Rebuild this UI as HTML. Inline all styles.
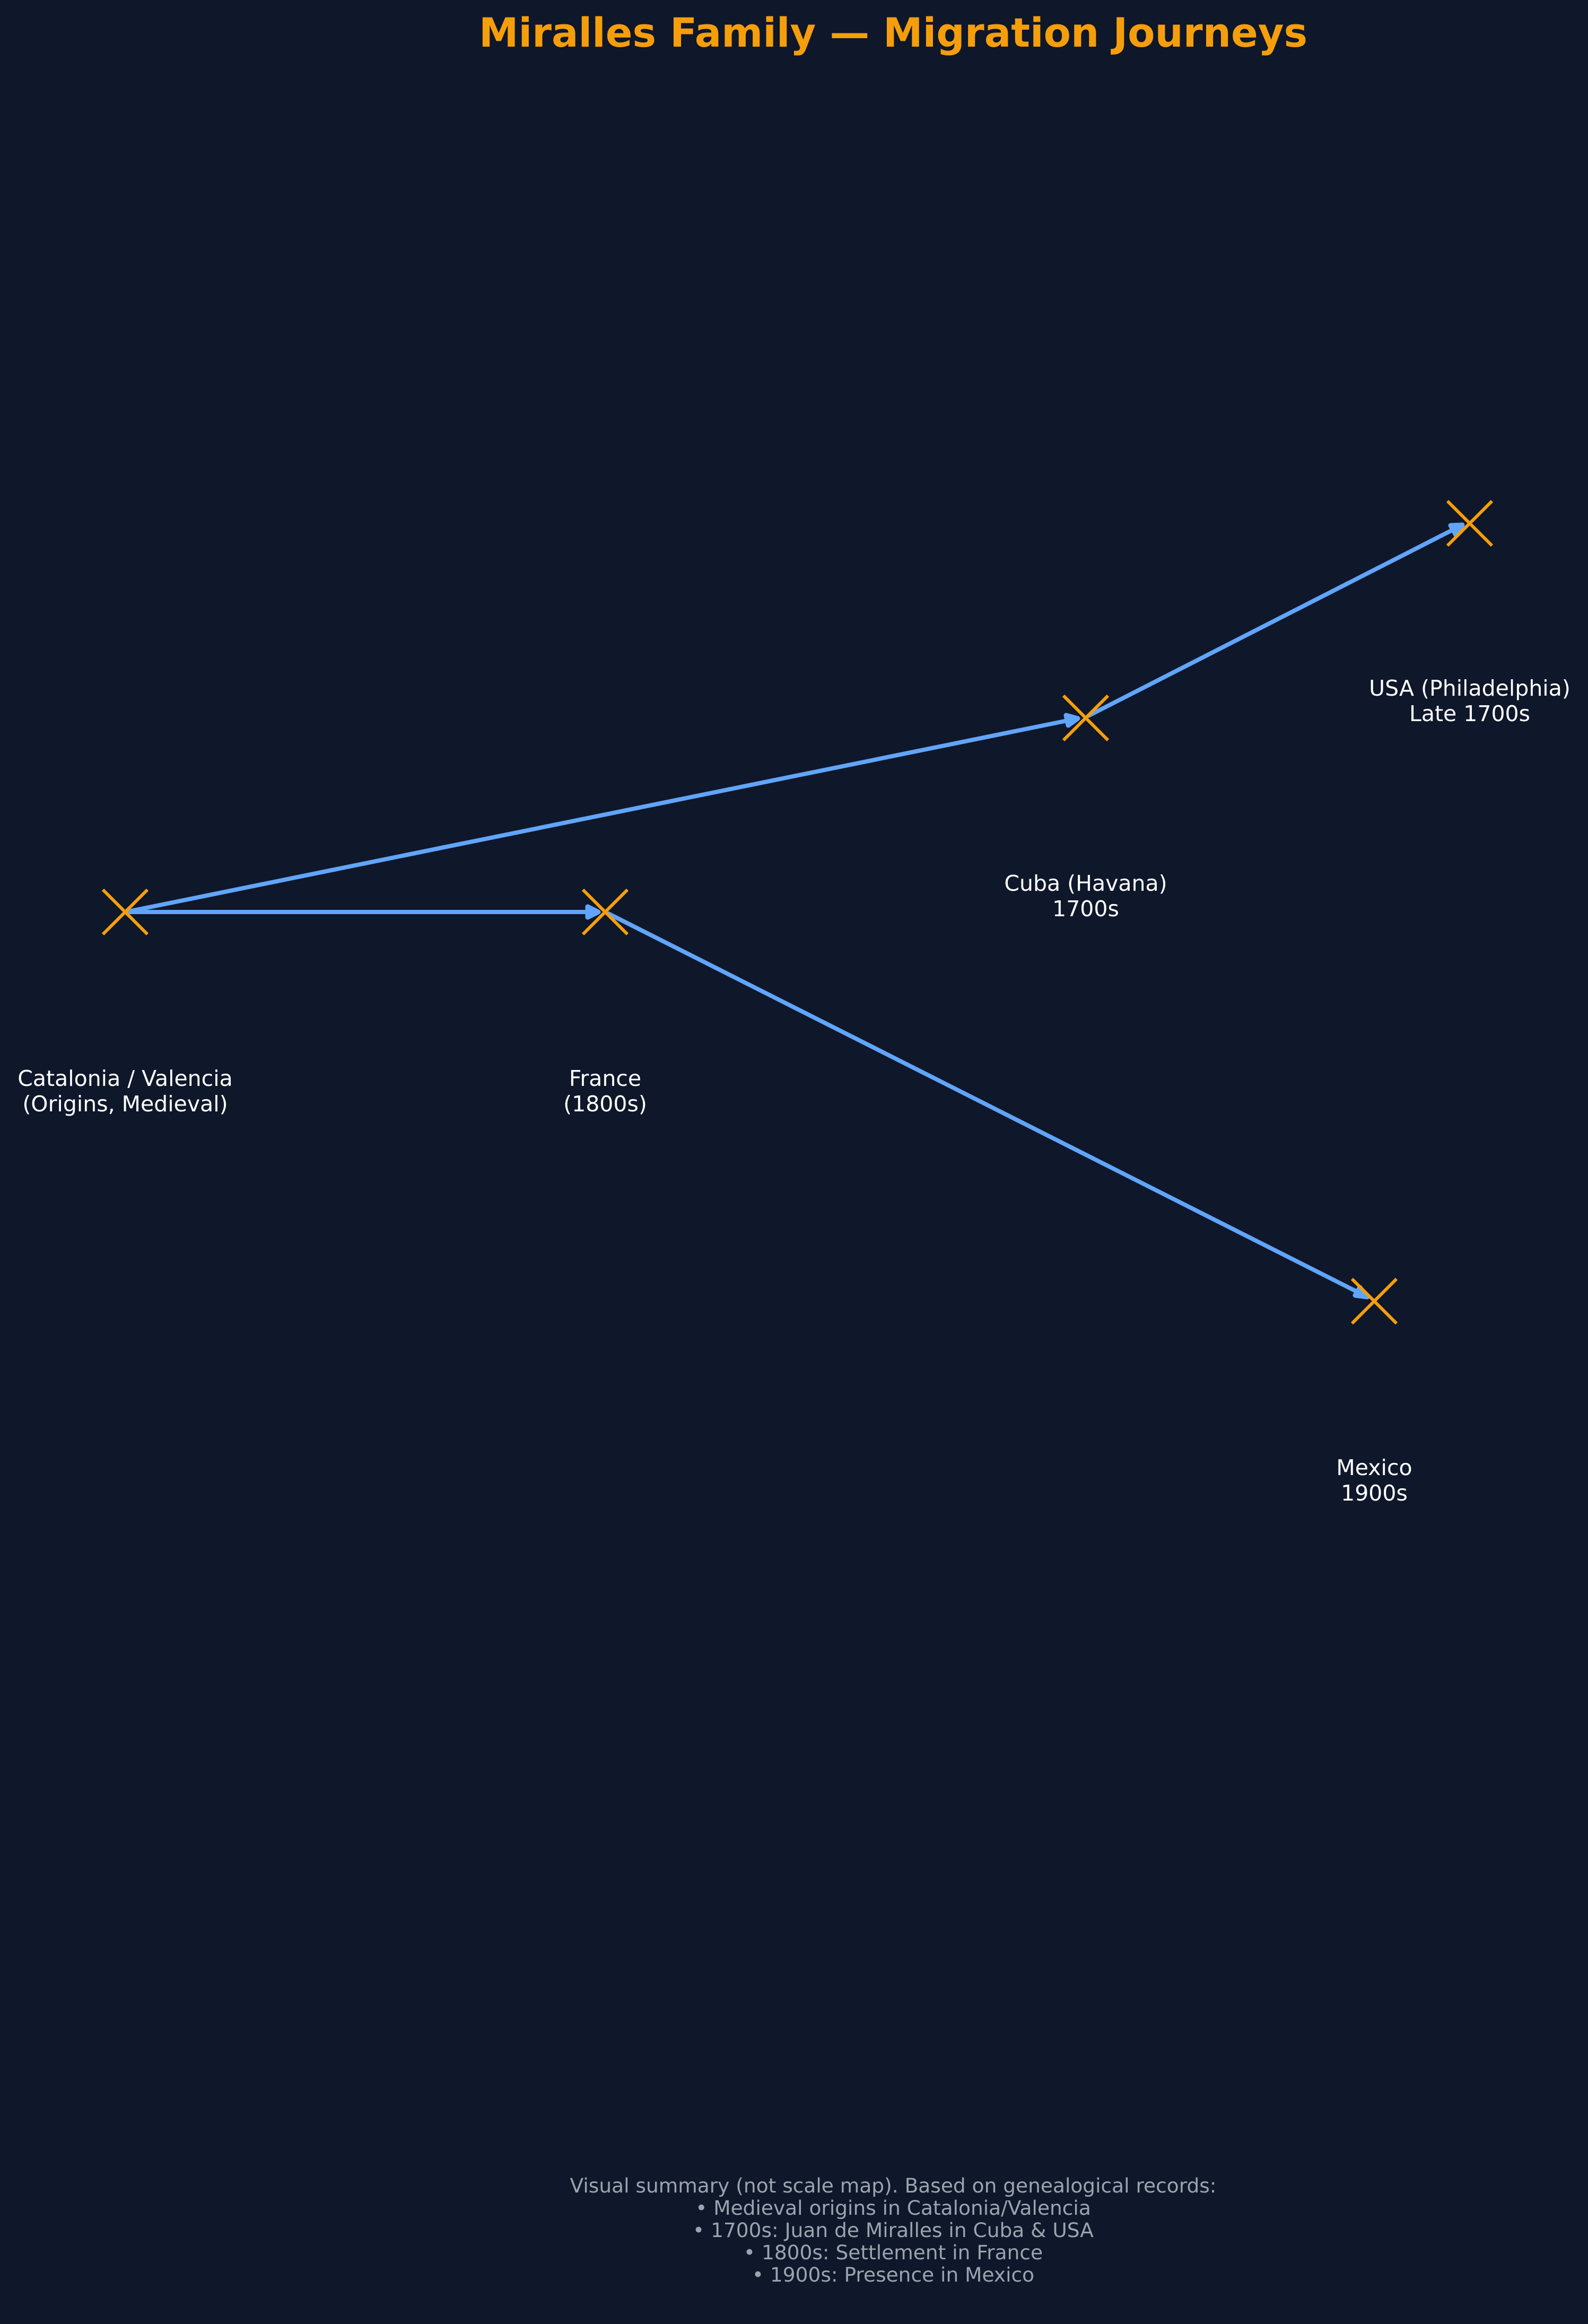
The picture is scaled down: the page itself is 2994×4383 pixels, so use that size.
<!DOCTYPE html>
<html><head><meta charset="utf-8"><style>
html,body{margin:0;padding:0;background:#0f172a;}
svg{display:block;}
text{font-family:"DejaVu Sans","Liberation Sans",sans-serif;}
</style></head><body>
<svg width="2994" height="4383" viewBox="0 0 2994 4383" xmlns="http://www.w3.org/2000/svg">
<rect width="2994" height="4383" fill="#0f172a"/>
<text x="1684" y="88" font-size="76" font-weight="bold" fill="#f59e0b" text-anchor="middle" textLength="1562" lengthAdjust="spacingAndGlyphs">Miralles Family — Migration Journeys</text>
<g stroke="#60a5fa" stroke-width="8" stroke-linecap="round" stroke-linejoin="round" fill="none">
<line x1="242" y1="1720" x2="1128" y2="1720"/>
<line x1="242" y1="1719" x2="2032" y2="1355"/>
<line x1="1147" y1="1723" x2="2578" y2="2446"/>
<line x1="2052" y1="1350" x2="2757" y2="990"/>
</g>
<g stroke="#60a5fa" stroke-width="9" stroke-linecap="round" stroke-linejoin="round" fill="#60a5fa">
<polygon points="1108,1710 1128,1720 1108,1730"/>
<polygon points="2010,1349 2032,1355 2014,1368"/>
<polygon points="2555,2443 2578,2446 2564,2428"/>
<polygon points="2735,991 2757,990 2745,1009"/>
</g>
<g stroke="#f59e0b" stroke-width="6">
<path d="M194 1678 L278 1762 M278 1678 L194 1762"/>
<path d="M1099 1678 L1183 1762 M1183 1678 L1099 1762"/>
<path d="M2005 1312 L2089 1396 M2089 1312 L2005 1396"/>
<path d="M2729 945 L2813 1029 M2813 945 L2729 1029"/>
<path d="M2549 2412 L2633 2496 M2633 2412 L2549 2496"/>
</g>
<g fill="#ffffff" font-size="41" text-anchor="middle">
<text x="236" y="2048">Catalonia / Valencia</text>
<text x="236" y="2096">(Origins, Medieval)</text>
<text x="1141" y="2048">France</text>
<text x="1141" y="2096">(1800s)</text>
<text x="2047" y="1680">Cuba (Havana)</text>
<text x="2047" y="1728">1700s</text>
<text x="2771" y="1312">USA (Philadelphia)</text>
<text x="2771" y="1360">Late 1700s</text>
<text x="2591" y="2782">Mexico</text>
<text x="2591" y="2830">1900s</text>
</g>
<g fill="#9ca3af" font-size="37.5" text-anchor="middle">
<text x="1684" y="4135">Visual summary (not scale map). Based on genealogical records:</text>
<text x="1684" y="4177">• Medieval origins in Catalonia/Valencia</text>
<text x="1684" y="4219">• 1700s: Juan de Miralles in Cuba &amp; USA</text>
<text x="1684" y="4261">• 1800s: Settlement in France</text>
<text x="1684" y="4303">• 1900s: Presence in Mexico</text>
</g>
</svg>
</body></html>
